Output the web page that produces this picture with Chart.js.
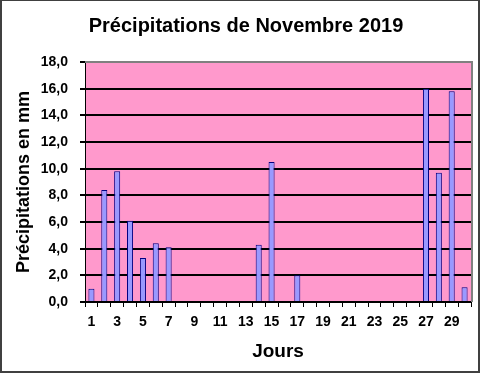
<!DOCTYPE html>
<html>
<head>
<meta charset="utf-8">
<script src="https://cdn.jsdelivr.net/npm/chart.js@4/dist/chart.umd.min.js"></script>
<style>
  body { margin: 0; background: #fff; }
  #wrap { width: 481px; height: 375px; }
</style>
</head>
<body>
<div id="wrap"><canvas id="chart" width="481" height="375"></canvas></div>
<script>
const days = ['1','2','3','4','5','6','7','8','9','10','11','12','13','14','15',
  '16','17','18','19','20','21','22','23','24','25','26','27','28','29','30'];
const rainMm = [1.0, 8.4, 9.8, 6.1, 3.3, 4.4, 4.1, 0, 0, 0, 0, 0, 0, 4.3, 10.5,
  0, 2.0, 0, 0, 0, 0, 0, 0, 0, 0, 0, 16.0, 9.7, 15.8, 1.1];
const yMin = 0;
const yMax = 18;
const yStep = 2;

const fontFamily = '"Liberation Sans", Arial, sans-serif';

// white page, outer frame, pink plot wall with grey top/right edge
const frame = {
  id: 'frame',
  beforeDraw(c) {
    const ctx = c.ctx;
    const a = c.chartArea;
    ctx.save();
    ctx.fillStyle = '#fff';
    ctx.fillRect(0, 0, c.width, c.height);
    ctx.fillStyle = '#ff99cc';
    ctx.fillRect(a.left, a.top, a.right - a.left, a.bottom - a.top);
    ctx.fillStyle = '#404040';
    ctx.fillRect(0, 0, 2, 373);
    ctx.fillRect(0, 0, 480, 1);
    ctx.fillRect(478, 0, 2, 373);
    ctx.fillRect(0, 371, 480, 2);
    ctx.restore();
  },
  beforeDatasetsDraw(c) {
    const ctx = c.ctx;
    const a = c.chartArea;
    ctx.save();
    ctx.strokeStyle = '#808080';
    ctx.lineWidth = 2;
    ctx.beginPath();
    ctx.moveTo(a.left, a.top);
    ctx.lineTo(a.right + 1, a.top);
    ctx.lineTo(a.right + 1, a.bottom);
    ctx.stroke();
    ctx.restore();
  }
};

new Chart(document.getElementById('chart'), {
  type: 'bar',
  data: {
    labels: days,
    datasets: [{
      label: 'Précipitations',
      data: rainMm,
      backgroundColor: '#9999ff',
      borderColor: '#000080',
      borderWidth: 1,
      barPercentage: 0.47,
      categoryPercentage: 1
    }]
  },
  options: {
    responsive: false,
    animation: false,
    layout: { padding: { left: 21, right: 10, top: 0, bottom: 0 } },
    plugins: {
      legend: { display: false },
      tooltip: { enabled: false },
      title: {
        display: true,
        text: 'Précipitations de Novembre 2019',
        color: '#000',
        font: { family: fontFamily, size: 20, weight: 'bold' },
        padding: { top: 14, bottom: 24 }
      }
    },
    scales: {
      x: {
        afterFit: s => { s.height = 73; },
        grid: {
          display: true,
          drawOnChartArea: false,
          offset: true,
          tickLength: 5,
          color: '#000'
        },
        border: { color: '#000', width: 1 },
        ticks: {
          autoSkip: false,
          minRotation: 0,
          maxRotation: 0,
          padding: 7,
          color: '#000',
          font: { family: fontFamily, size: 14, weight: 'bold' },
          callback: (v, i) => (i % 2 === 0 ? days[i] : '')
        },
        title: {
          display: true,
          text: 'Jours',
          color: '#000',
          font: { family: fontFamily, size: 19, weight: 'bold' },
          padding: { top: 0, bottom: 12 }
        }
      },
      y: {
        min: yMin,
        max: yMax,
        afterFit: s => { s.width = 64; },
        grid: { color: '#000', lineWidth: 2, tickLength: 5 },
        border: { color: '#000', width: 1 },
        ticks: {
          stepSize: yStep,
          padding: 12,
          color: '#000',
          font: { family: fontFamily, size: 14, weight: 'bold' },
          callback: v => v.toFixed(1).replace('.', ',')
        },
        title: {
          display: true,
          text: 'Précipitations en mm',
          color: '#000',
          font: { family: fontFamily, size: 18, weight: 'bold' },
          padding: { top: -8, bottom: 0 }
        }
      }
    }
  },
  plugins: [frame]
});
</script>
</body>
</html>
